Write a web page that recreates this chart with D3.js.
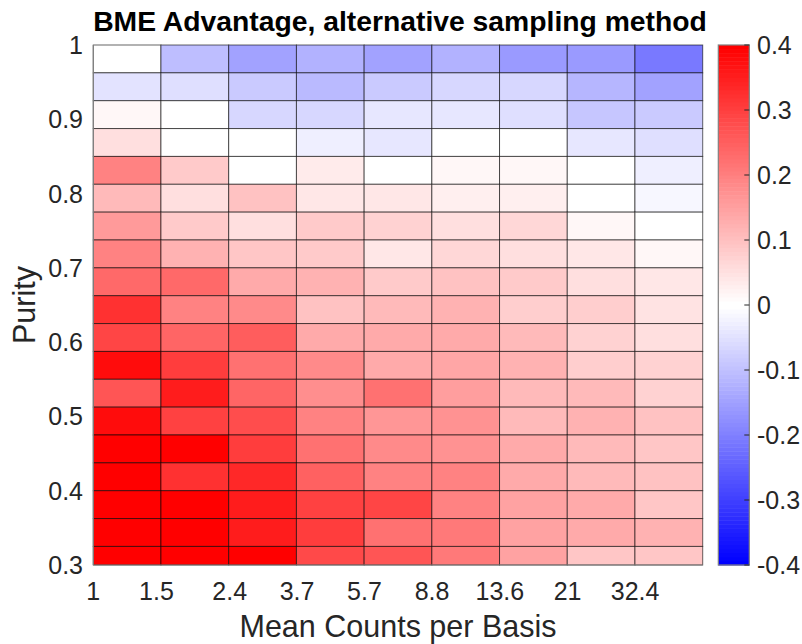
<!DOCTYPE html>
<html>
<head>
<meta charset="utf-8">
<script src="https://cdn.jsdelivr.net/npm/d3@7"></script>
<style>
  body { margin: 0; background: #fff; }
  svg text { font-family: "Liberation Sans", Arial, Helvetica, sans-serif; }
</style>
</head>
<body>
<svg id="chart" width="802" height="644"></svg>
<script>
// column edges (mean counts, log spaced) and the labels shown under them
var countEdges = [1, 1.544, 2.385, 3.684, 5.690, 8.788, 13.57, 20.96, 32.37, 50];
var countTicks = [1, 1.5, 2.4, 3.7, 5.7, 8.8, 13.6, 21, 32.4];

// row edges in purity, top to bottom (last row is cut at 0.3)
var purityEdges = [1, 0.9625, 0.925, 0.8875, 0.85, 0.8125, 0.775, 0.7375, 0.7, 0.6625,
                   0.625, 0.5875, 0.55, 0.5125, 0.475, 0.4375, 0.4, 0.3625, 0.325, 0.3];
var purityTicks = [0.3, 0.4, 0.5, 0.6, 0.7, 0.8, 0.9, 1];

// BME advantage, one row per purity band (top first), one value per count bin
var advantage = [
  [0,      -0.10,  -0.15,  -0.12,  -0.15,  -0.12,  -0.158, -0.158, -0.212],
  [-0.045, -0.053, -0.086, -0.107, -0.086, -0.064, -0.064, -0.117, -0.149],
  [0.015,   0,     -0.066, -0.066, -0.041, -0.041, -0.053, -0.091, -0.086],
  [0.053,   0,      0,     -0.03,  -0.041,  0,      0,     -0.041, -0.053],
  [0.2,     0.083,  0,      0.033,  0,      0.015,  0.015,  0,     -0.027],
  [0.107,   0.053,  0.099,  0.041,  0.041,  0.028,  0.028,  0,     -0.016],
  [0.158,   0.083,  0.053,  0.083,  0.074,  0.053,  0.066,  0.015,  0],
  [0.2,     0.119,  0.091,  0.083,  0.041,  0.066,  0.053,  0.041,  0.015],
  [0.237,   0.237,  0.133,  0.119,  0.083,  0.099,  0.083,  0.053,  0.041],
  [0.32,    0.2,    0.187,  0.099,  0.107,  0.119,  0.08,   0.08,   0.049],
  [0.293,   0.24,   0.256,  0.133,  0.136,  0.133,  0.108,  0.069,  0.053],
  [0.375,   0.306,  0.224,  0.187,  0.136,  0.141,  0.124,  0.08,   0.069],
  [0.267,   0.35,   0.24,   0.18,   0.224,  0.152,  0.107,  0.107,  0.069],
  [0.375,   0.3,    0.281,  0.2,    0.165,  0.174,  0.107,  0.124,  0.099],
  [0.4,     0.4,    0.306,  0.224,  0.185,  0.174,  0.136,  0.107,  0.091],
  [0.4,     0.32,   0.337,  0.249,  0.2,    0.2,    0.136,  0.107,  0.099],
  [0.4,     0.4,    0.35,   0.3,    0.293,  0.2,    0.149,  0.136,  0.091],
  [0.4,     0.4,    0.35,   0.306,  0.224,  0.212,  0.149,  0.136,  0.124],
  [0.4,     0.4,    0.4,    0.287,  0.265,  0.212,  0.149,  0.091,  0.091]
];

var colorTicks = [-0.4, -0.3, -0.2, -0.1, 0, 0.1, 0.2, 0.3, 0.4];
var colorRange = [-0.4, 0.4];

var svg = d3.select("#chart");

var plotLeft = 93.3, plotRight = 702.7, plotTop = 45, plotBottom = 565;

var x = d3.scaleLog()
    .domain([countEdges[0], countEdges[countEdges.length - 1]])
    .range([plotLeft, plotRight]);

var y = d3.scaleLinear()
    .domain([0.3, 1])
    .range([plotBottom, plotTop]);

// plain hyphen for negatives, like the matlab labels
var fmt = function(d) { return String(+d.toFixed(2)); };

// blue - white - red map, quantised like a 128 entry colormap
var nLevels = 128;
var half = nLevels / 2;
var cmap = [];
for (var i = 0; i < nLevels; i++) {
    if (i < half) {
        cmap.push(d3.interpolateRgb("#0000ff", "#ffffff")(i / (half - 1)));
    } else {
        cmap.push(d3.interpolateRgb("#ffffff", "#ff0000")((i - half) / (half - 1)));
    }
}
var levelOf = d3.scaleQuantize().domain(colorRange).range(d3.range(nLevels));
var color = function(v) {
    v = Math.max(colorRange[0], Math.min(colorRange[1], v));
    return cmap[levelOf(v)];
};

// flatten the grid into cells
var cells = [];
advantage.forEach(function(row, r) {
    row.forEach(function(v, c) {
        cells.push({ r: r, c: c, v: v });
    });
});

svg.append("g")
  .selectAll("rect")
  .data(cells)
  .join("rect")
    .attr("x", function(d) { return x(countEdges[d.c]); })
    .attr("y", function(d) { return y(purityEdges[d.r]); })
    .attr("width", function(d) { return x(countEdges[d.c + 1]) - x(countEdges[d.c]); })
    .attr("height", function(d) { return y(purityEdges[d.r + 1]) - y(purityEdges[d.r]); })
    .attr("fill", function(d) { return color(d.v); })
    .attr("stroke", "#000")
    .attr("stroke-opacity", 0.6)
    .attr("stroke-width", 1);

// axes lines, left and bottom only
var axisColor = "#808080";
svg.append("line")
    .attr("x1", plotLeft).attr("x2", plotLeft)
    .attr("y1", plotTop).attr("y2", plotBottom)
    .attr("stroke", axisColor).attr("stroke-width", 1.2);
svg.append("line")
    .attr("x1", plotLeft).attr("x2", plotRight)
    .attr("y1", plotBottom).attr("y2", plotBottom)
    .attr("stroke", axisColor).attr("stroke-width", 1.2);

var tickFont = 25;
var textColor = "#262626";

svg.append("g")
  .selectAll("text")
  .data(purityTicks)
  .join("text")
    .attr("x", 83)
    .attr("y", function(d) { return y(d); })
    .attr("text-anchor", "end")
    .attr("dominant-baseline", "central")
    .attr("font-size", tickFont)
    .attr("fill", textColor)
    .text(fmt);

svg.append("g")
  .selectAll("text")
  .data(countTicks)
  .join("text")
    .attr("x", function(d) { return x(d); })
    .attr("y", 600)
    .attr("text-anchor", "middle")
    .attr("font-size", tickFont)
    .attr("fill", textColor)
    .text(fmt);

// axis titles
svg.append("text")
    .attr("x", (plotLeft + plotRight) / 2)
    .attr("y", 637)
    .attr("text-anchor", "middle")
    .attr("font-size", 30.5)
    .attr("fill", textColor)
    .text("Mean Counts per Basis");

svg.append("text")
    .attr("transform", "translate(35," + ((plotTop + plotBottom) / 2) + ") rotate(-90)")
    .attr("text-anchor", "middle")
    .attr("font-size", 30.5)
    .attr("fill", textColor)
    .text("Purity");

svg.append("text")
    .attr("x", (plotLeft + plotRight) / 2 + 2)
    .attr("y", 31)
    .attr("text-anchor", "middle")
    .attr("font-size", 28.3)
    .attr("font-weight", "bold")
    .attr("fill", "#000")
    .text("BME Advantage, alternative sampling method");

// colorbar
var cbLeft = 718.3, cbRight = 749.3;
var cy = d3.scaleLinear().domain(colorRange).range([plotBottom, plotTop]);
var step = (colorRange[1] - colorRange[0]) / nLevels;

svg.append("g")
  .selectAll("rect")
  .data(cmap)
  .join("rect")
    .attr("x", cbLeft)
    .attr("width", cbRight - cbLeft)
    .attr("y", function(d, i) { return cy(colorRange[0] + (i + 1) * step); })
    .attr("height", function(d, i) { return cy(colorRange[0] + i * step) - cy(colorRange[0] + (i + 1) * step) + 0.5; })
    .attr("fill", function(d) { return d; });

svg.append("rect")
    .attr("x", cbLeft).attr("y", plotTop)
    .attr("width", cbRight - cbLeft).attr("height", plotBottom - plotTop)
    .attr("fill", "none")
    .attr("stroke", axisColor)
    .attr("stroke-width", 1.2);

svg.append("g")
  .selectAll("line")
  .data(colorTicks)
  .join("line")
    .attr("x1", cbRight - 5).attr("x2", cbRight)
    .attr("y1", function(d) { return cy(d); })
    .attr("y2", function(d) { return cy(d); })
    .attr("stroke", textColor)
    .attr("stroke-width", 1);

svg.append("g")
  .selectAll("text")
  .data(colorTicks)
  .join("text")
    .attr("x", 757)
    .attr("y", function(d) { return cy(d); })
    .attr("dominant-baseline", "central")
    .attr("font-size", tickFont)
    .attr("fill", textColor)
    .text(fmt);
</script>
</body>
</html>
